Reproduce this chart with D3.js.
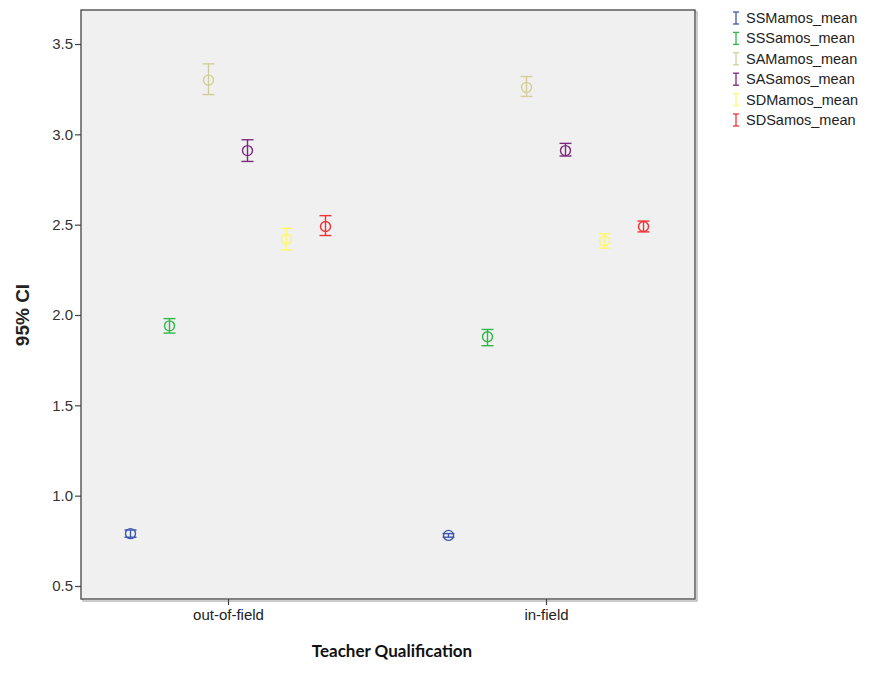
<!DOCTYPE html>
<html>
<head>
<meta charset="utf-8">
<script src="https://cdn.jsdelivr.net/npm/d3@7"></script>
<style>
  html, body { margin: 0; padding: 0; background: #fff; }
  svg { display: block; }
</style>
</head>
<body>
<svg id="chart" width="877" height="690"></svg>
<script>
// Groups on the x axis
const groups = ["out-of-field", "in-field"];

// Series (one error bar per series within each group)
const seriesNames = ["SSMamos_mean", "SSSamos_mean", "SAMamos_mean", "SASamos_mean", "SDMamos_mean", "SDSamos_mean"];
const seriesColors = ["#3E58AC", "#2EB848", "#D3CE97", "#7C287D", "#FBF873", "#EF3338"];

// Means per series, ordered as groups
const means = [
  [0.79, 0.78],
  [1.94, 1.88],
  [3.30, 3.26],
  [2.91, 2.91],
  [2.42, 2.41],
  [2.49, 2.49]
];
// Lower and upper 95% CI bounds per series
const lower = [
  [0.77, 0.77],
  [1.90, 1.83],
  [3.22, 3.21],
  [2.85, 2.88],
  [2.36, 2.37],
  [2.44, 2.46]
];
const upper = [
  [0.81, 0.79],
  [1.98, 1.92],
  [3.39, 3.32],
  [2.97, 2.95],
  [2.48, 2.45],
  [2.55, 2.52]
];

const yTicks = [0.5, 1.0, 1.5, 2.0, 2.5, 3.0, 3.5];

const svg = d3.select("#chart");
const plot = { left: 81, right: 695, top: 10, bottom: 599 };
const sans = "'Liberation Sans', Arial, sans-serif";

const y = d3.scaleLinear().domain([0.5, 3.5]).range([586, 44]);
const x = d3.scalePoint().domain(groups).range([228, 546]);
const offset = d3.scalePoint().domain(seriesNames).range([-97.5, 97.5]);

// plot frame with a soft shadow on the right and bottom
svg.append("rect")
  .attr("x", plot.left + 2).attr("y", plot.top + 2)
  .attr("width", plot.right - plot.left).attr("height", plot.bottom - plot.top)
  .attr("fill", "none").attr("stroke", "#bbb").attr("stroke-width", 1.5);
svg.append("rect")
  .attr("x", plot.left).attr("y", plot.top)
  .attr("width", plot.right - plot.left).attr("height", plot.bottom - plot.top)
  .attr("fill", "#f0f0f0").attr("stroke", "#444").attr("stroke-width", 1.3);

// y axis
const yAxis = d3.axisLeft(y).tickValues(yTicks).tickFormat(d3.format(".1f")).tickSize(6).tickPadding(2);
const gy = svg.append("g").attr("transform", `translate(${plot.left},0)`).call(yAxis);
gy.select(".domain").remove();
gy.selectAll(".tick line").attr("stroke", "#444").attr("stroke-width", 1.2);
gy.selectAll(".tick text").attr("fill", "#333").style("font-family", sans).style("font-size", "15px");

// x axis
const xAxis = d3.axisBottom(x).tickSize(6).tickPadding(4);
const gx = svg.append("g").attr("transform", `translate(0,${plot.bottom})`).call(xAxis);
gx.select(".domain").remove();
gx.selectAll(".tick line").attr("stroke", "#444").attr("stroke-width", 1.2);
gx.selectAll(".tick text").attr("fill", "#222").style("font-family", sans).style("font-size", "15px");

// axis titles
svg.append("text")
  .attr("transform", `translate(29,${(44 + 586) / 2}) rotate(-90)`)
  .attr("text-anchor", "middle")
  .style("font-family", sans)
  .style("font-weight", "bold").style("font-size", "19px").attr("fill", "#222")
  .text("95% CI");
svg.append("text")
  .attr("x", 392).attr("y", 657)
  .attr("text-anchor", "middle")
  .style("font-family", "Lato, 'Open Sans', sans-serif")
  .style("font-weight", "bold").style("font-size", "17px").attr("fill", "#111")
  .text("Teacher Qualification");

// error bars
const rows = [];
seriesNames.forEach((s, i) => {
  groups.forEach((g, j) => {
    rows.push({ s, g, color: seriesColors[i], m: means[i][j], lo: lower[i][j], hi: upper[i][j] });
  });
});

const bars = svg.append("g").selectAll("g").data(rows).join("g")
  .attr("transform", d => `translate(${x(d.g) + offset(d.s)},0)`)
  .attr("stroke", d => d.color).attr("fill", "none").attr("stroke-width", 1.4);

bars.append("line").attr("x1", 0).attr("x2", 0).attr("y1", d => y(d.hi)).attr("y2", d => y(d.lo));
bars.append("line").attr("x1", -6).attr("x2", 6).attr("y1", d => y(d.hi)).attr("y2", d => y(d.hi));
bars.append("line").attr("x1", -6).attr("x2", 6).attr("y1", d => y(d.lo)).attr("y2", d => y(d.lo));
bars.append("circle").attr("cx", 0).attr("cy", d => y(d.m)).attr("r", 5);

// legend
const legend = svg.append("g").attr("transform", "translate(736,18)");
const li = legend.selectAll("g").data(seriesNames).join("g")
  .attr("transform", (d, i) => `translate(0,${i * 20.4})`);
li.append("g").attr("stroke", (d, i) => seriesColors[i]).attr("stroke-width", 1.3)
  .call(g => {
    g.append("line").attr("x1", 0).attr("x2", 0).attr("y1", -6).attr("y2", 6);
    g.append("line").attr("x1", -3).attr("x2", 3).attr("y1", -6).attr("y2", -6);
    g.append("line").attr("x1", -3).attr("x2", 3).attr("y1", 6).attr("y2", 6);
  });
li.append("text").attr("x", 10).attr("y", 0).attr("dy", "0.35em")
  .style("font-family", sans).style("font-size", "14.5px").attr("fill", "#222")
  .text(d => d);
</script>
</body>
</html>
